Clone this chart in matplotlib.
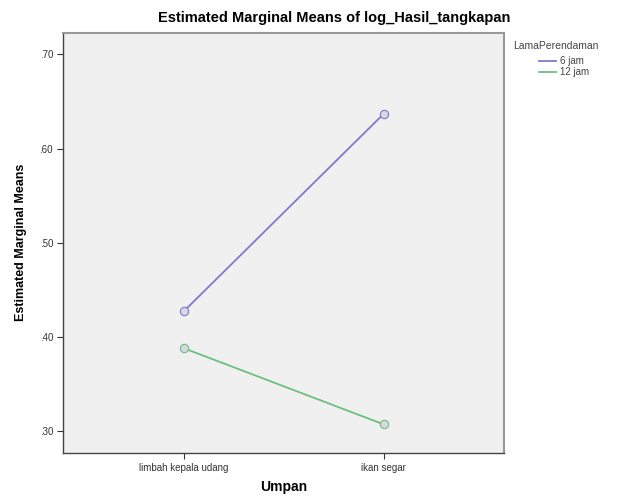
import matplotlib
matplotlib.use("Agg")
import matplotlib.pyplot as plt
from matplotlib.lines import Line2D
from matplotlib.ticker import FuncFormatter

plt.rcParams["font.family"] = ["Liberation Sans", "DejaVu Sans"]

umpan = ["limbah kepala udang", "ikan segar"]
series_names = ["6 jam", "12 jam"]
jam6 = [0.427, 0.637]
jam12 = [0.388, 0.307]
yticks = [0.30, 0.40, 0.50, 0.60, 0.70]

colors = ["#7b7bcf", "#6cc07f"]

fig = plt.figure(figsize=(6.38, 4.99), dpi=100)
ax = fig.add_axes([0.0995, 0.0928, 0.6905, 0.8417])
ax.set_facecolor("#f0f0f0")

x = list(range(len(umpan)))
for vals, name, c in zip([jam6, jam12], series_names, colors):
    ax.plot(x, vals, color=c, lw=1.3, marker="o", ms=6,
            mfc="#d8d8e0", mec=c, mew=0.8, label=name)

ax.set_xlim(-0.6, 1.6)
ax.set_ylim(0.277, 0.723)
ax.set_xticks(x)
ax.set_xticklabels(umpan)
ax.set_yticks(yticks)
ax.yaxis.set_major_formatter(FuncFormatter(lambda v, p: f"{v:.2f}".lstrip("0")))
ax.tick_params(labelsize=7, colors="#333333", length=4, width=0.8)

for s in ["left", "bottom"]:
    ax.spines[s].set_color("#444444")
    ax.spines[s].set_linewidth(1.0)
for s in ["top", "right"]:
    ax.spines[s].set_color("#999999")
    ax.spines[s].set_linewidth(1.5)

ax.set_xlabel("Umpan", fontsize=10, fontweight="bold", labelpad=5)
ax.set_ylabel("Estimated Marginal Means", fontsize=9, fontweight="bold", labelpad=9)
fig.text(334 / 638, 1 - 18 / 499, "Estimated Marginal Means of log_Hasil_tangkapan",
         ha="center", va="center", fontsize=10.5, fontweight="bold")

# legend: title as text, entries without markers
fig.text(513 / 638, 1 - 46 / 499, "LamaPerendaman", ha="left", va="center",
         fontsize=7.5, color="#444444")
handles = [Line2D([], [], color=c, lw=1.3) for c in colors]
leg = fig.legend(handles, series_names, loc="upper left",
                 bbox_to_anchor=(539 / 638, 1 - 56 / 499),
                 frameon=False, fontsize=7, handlelength=1.7, handletextpad=0.5,
                 labelspacing=0.1, borderpad=0, borderaxespad=0)
for t in leg.get_texts():
    t.set_color("#444444")

fig.savefig("out.png", dpi=100)
